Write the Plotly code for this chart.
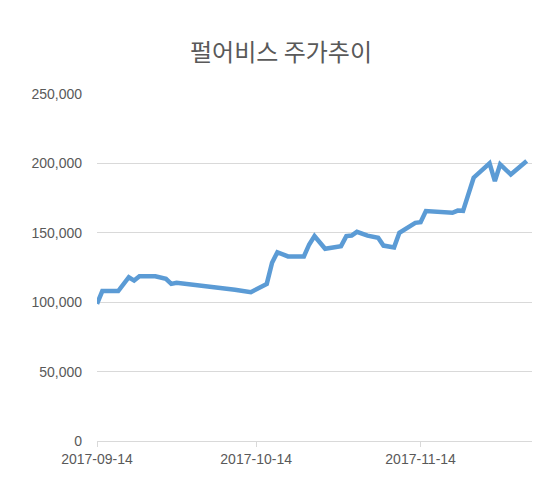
import plotly.graph_objects as go

dates = ["2017-09-14", "2017-09-15", "2017-09-18", "2017-09-20", "2017-09-21", "2017-09-22",
         "2017-09-25", "2017-09-27", "2017-09-28", "2017-09-29", "2017-10-10", "2017-10-13",
         "2017-10-16", "2017-10-17", "2017-10-18", "2017-10-20", "2017-10-23", "2017-10-24",
         "2017-10-25", "2017-10-27", "2017-10-30", "2017-10-31", "2017-11-01", "2017-11-02",
         "2017-11-04", "2017-11-06", "2017-11-07", "2017-11-09", "2017-11-10", "2017-11-13",
         "2017-11-14", "2017-11-15", "2017-11-20", "2017-11-21", "2017-11-22", "2017-11-23",
         "2017-11-24", "2017-11-27", "2017-11-28", "2017-11-29", "2017-12-01", "2017-12-04"]
prices = [98800, 108000, 108000, 118000, 115600, 118700,
          118700, 116800, 113200, 114000, 109000, 107200,
          113200, 128400, 136000, 133000, 133000, 141600,
          147600, 138500, 140400, 147600, 148000, 150700,
          148000, 146400, 140800, 139500, 150000, 157200,
          157700, 165700, 164400, 166000, 165800, 178900,
          189700, 200000, 187300, 199300, 192000, 201700]

fig = go.Figure(go.Scatter(x=dates, y=prices, mode="lines",
                           line=dict(color="#5B9BD5", width=4.5)))

fig.update_layout(
    width=546, height=477,
    margin=dict(l=89, r=22, t=86, b=44),
    plot_bgcolor="white", paper_bgcolor="white",
    font=dict(family="Liberation Sans, Noto Sans", color="#595959", size=14),
    title=dict(text="펄어비스 주가추이", x=0.5, xanchor="center", y=0.925,
               font=dict(family="Noto Sans CJK KR", size=24, color="#595959")),
    showlegend=False,
)
fig.update_xaxes(type="date", range=["2017-09-14", "2017-12-05"],
                 tickvals=["2017-09-14", "2017-10-14", "2017-11-14"],
                 ticktext=["2017-09-14", "2017-10-14", "2017-11-14"],
                 showgrid=False, showline=True, linecolor="#D9D9D9",
                 ticks="outside", tickcolor="#D9D9D9", ticklen=5, automargin=False)
fig.update_yaxes(range=[0, 250000], dtick=50000, tickformat=",",
                 showgrid=True, gridcolor="#D9D9D9", zeroline=False,
                 ticks="", ticklabelstandoff=14, automargin=False)

fig.write_html("out.html")
